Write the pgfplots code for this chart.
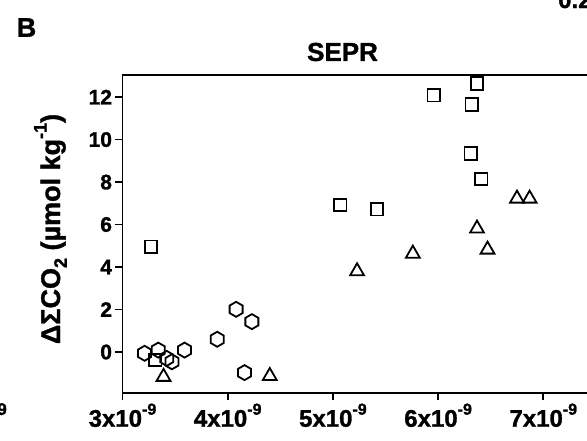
\documentclass[border=0pt]{standalone}
\usepackage{fontspec}
\setmainfont{Liberation Sans}[BoldFeatures={FakeBold=1.3}]
\usepackage{pgfplots}
\pgfplotsset{compat=1.18}

% open hexagon with a vertex on top
\pgfdeclareplotmark{hexagon}{%
  \pgfpathmoveto{\pgfpointpolar{90}{\pgfplotmarksize}}%
  \pgfpathlineto{\pgfpointpolar{150}{\pgfplotmarksize}}%
  \pgfpathlineto{\pgfpointpolar{210}{\pgfplotmarksize}}%
  \pgfpathlineto{\pgfpointpolar{270}{\pgfplotmarksize}}%
  \pgfpathlineto{\pgfpointpolar{330}{\pgfplotmarksize}}%
  \pgfpathlineto{\pgfpointpolar{30}{\pgfplotmarksize}}%
  \pgfpathclose
  \pgfusepathqstroke
}

\newcommand{\supsz}{\fontsize{16}{16}\selectfont}
\newcommand{\sci}[1]{#1x10\raisebox{0.5em}{\supsz -9}}

\begin{document}
\begin{tikzpicture}
\path[use as bounding box, clip] (0pt,-440pt) rectangle (587pt,0pt);

\node[font=\bfseries\fontsize{27}{27}\selectfont] at (26.5pt,-27.5pt) {B};
\node[font=\bfseries\fontsize{26}{26}\selectfont] at (342.5pt,-52pt) {SEPR};
\node[font=\bfseries\fontsize{24}{24}\selectfont, anchor=base west, inner sep=0pt] at (558pt,-8pt) {0.2};
\node[font=\bfseries\fontsize{17}{17}\selectfont, anchor=base east, inner sep=0pt] at (7pt,-415pt) {9};
\node[font=\bfseries\fontsize{27}{27}\selectfont, rotate=90, anchor=base, inner sep=0pt] at (60pt,-229pt)
  {ΔΣCO\raisebox{-0.25em}{\fontsize{18}{18}\selectfont 2} (µmol kg\raisebox{0.5em}{\fontsize{18}{18}\selectfont -1})};

\begin{axis}[
  at={(122.5pt,-393pt)}, anchor=south west,
  scale only axis, width=483.9pt, height=318pt,
  xmin=3e-9, xmax=7.6e-9, ymin=-1.93, ymax=13.04,
  xtick={3e-9,4e-9,5e-9,6e-9,7e-9},
  xticklabels={\sci{3},\sci{4},\sci{5},\sci{6},\sci{7}},
  scaled x ticks=false,
  ytick={0,2,4,6,8,10,12},
  /pgf/number format/assume math mode=true,
  xticklabel style={font=\bfseries\fontsize{24}{24}\selectfont},
  yticklabel style={font=\bfseries\fontsize{21}{21}\selectfont},
  tick align=outside, xtick pos=bottom, ytick pos=left,
  major tick length=7pt,
  axis line style={line width=1.7pt},
  every tick/.style={black, line width=1.7pt},
  clip=false,
  every axis plot/.append style={only marks, black, line width=1.8pt},
]
% squares
\addplot[mark=square, mark size=6.3pt] coordinates {
  (3.27e-9,4.95) (5.07e-9,6.92) (5.42e-9,6.72) (5.96e-9,12.09)
  (6.37e-9,12.64) (6.32e-9,11.66) (6.31e-9,9.35) (6.41e-9,8.14)
  (3.31e-9,-0.38)
};
% triangles
\addplot[mark=triangle, mark size=8pt] coordinates {
  (3.39e-9,-1.17) (4.40e-9,-1.13) (5.23e-9,3.80) (5.76e-9,4.63)
  (6.37e-9,5.81) (6.47e-9,4.82) (6.75e-9,7.22) (6.87e-9,7.22)
};
% hexagons
\addplot[mark=hexagon, mark size=7.5pt] coordinates {
  (3.21e-9,-0.06) (3.34e-9,0.09) (3.42e-9,-0.30) (3.47e-9,-0.46)
  (3.59e-9,0.09) (3.90e-9,0.60) (4.08e-9,2.01) (4.23e-9,1.43)
  (4.16e-9,-0.97)
};
\end{axis}
\end{tikzpicture}
\end{document}
